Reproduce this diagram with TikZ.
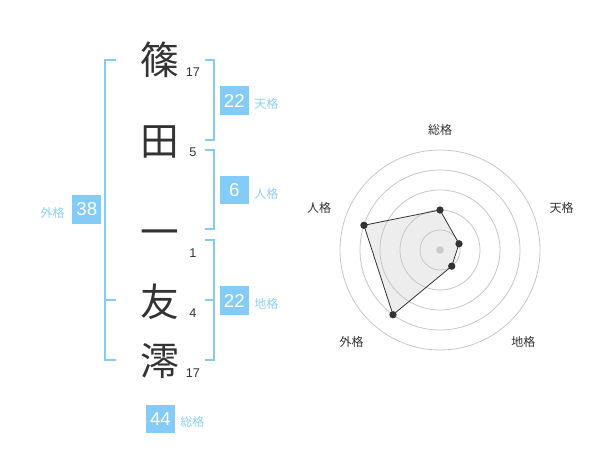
\documentclass[tikz,border=0pt]{standalone}
\usepackage{fontspec}
\usetikzlibrary{calc}
\setmainfont{Liberation Sans}
\newfontfamily\jp{Noto Sans CJK JP}
\definecolor{blu}{HTML}{84CCF8}
\definecolor{blulbl}{HTML}{8ED0F6}
\definecolor{ink}{HTML}{333333}
\tikzset{
  kanji/.style={font=\jp\fontsize{29pt}{29pt}\selectfont, text=ink, inner sep=0pt},
  strk/.style={font=\fontsize{9.5pt}{10pt}\selectfont, text=ink, inner sep=0pt},
  brk/.style={draw=blu, line width=1.5pt},
  numbox/.style={fill=blu, text=white, minimum size=21.5pt, inner sep=0pt, font=\fontsize{14pt}{14pt}\selectfont},
  kaku/.style={font=\jp\fontsize{9pt}{9pt}\selectfont, text=blulbl, inner sep=0pt},
  ring/.style={draw=black!22, line width=0.6pt},
  rlbl/.style={font=\jp\fontsize{9pt}{9pt}\selectfont, text=ink, inner sep=0pt},
  vdot/.style={circle, fill=ink, minimum size=5.5pt, inner sep=0pt}
}
\begin{document}
\begin{tikzpicture}[x=0.75pt,y=-0.75pt]
\useasboundingbox (0,0) rectangle (600,470);
% characters
\node[kanji] (c1) at (160,60) {篠};
\node[kanji] (c2) at (160,141.5) {田};
\node[kanji] (c3) at (160,238) {一};
\node[kanji] (c4) at (160,301.5) {友};
\node[kanji] (c5) at (160,361.5) {澪};
% strokes
\node[strk] (s1) at (193,72.3) {17};
\node[strk] (s2) at (193,152.7) {5};
\node[strk] (s3) at (193,253.3) {1};
\node[strk] (s4) at (193,313.3) {4};
\node[strk] (s5) at (193,373.3) {17};
% brackets
\draw[brk] (116,60) -- (105,60) -- (105,360) -- (116,360);
\draw[brk] (105,300) -- (116,300);
\draw[brk] (205,60) -- (214,60) -- (214,140) -- (205,140);
\draw[brk] (205,150) -- (214,150) -- (214,229.3) -- (205,229.3);
\draw[brk] (205,240) -- (214,240) -- (214,360) -- (205,360);
\draw[brk] (205,300) -- (214,300);
% boxes
\node[numbox] (bt) at (234.3,100.5) {22};
\node[kaku, anchor=west] (lt) at (254,103.5) {天格};
\node[numbox] (bj) at (234.3,190) {6};
\node[kaku, anchor=west] (lj) at (254,193.5) {人格};
\node[numbox] (bc) at (234.3,300.5) {22};
\node[kaku, anchor=west] (lc) at (254,303.5) {地格};
\node[numbox] (bg) at (86.8,209.5) {38};
\node[kaku, anchor=east] (lg) at (65,212.5) {外格};
\node[numbox] (bs) at (160.5,419) {44};
\node[kaku, anchor=west] (ls) at (180,422) {総格};
% radar
\coordinate (o) at (440,250);
\coordinate (p1) at ($(o)+(0,-40)$);
\coordinate (p2) at ($(o)+(19.02,-6.18)$);
\coordinate (p3) at ($(o)+(11.76,16.18)$);
\coordinate (p4) at ($(o)+(-47.02,64.72)$);
\coordinate (p5) at ($(o)+(-76.08,-24.72)$);
\fill[black!7] (p1) -- (p2) -- (p3) -- (p4) -- (p5) -- cycle;
\foreach \r in {20,40,60,80,100} \draw[ring] (o) circle[radius=\r];
\fill[black!20] (o) circle[radius=3.8];
\draw[draw=ink, line width=0.6pt] (p1) -- (p2) -- (p3) -- (p4) -- (p5) -- cycle;
\foreach \i in {1,...,5} \node[vdot] (d\i) at (p\i) {};
\node[rlbl] (r1) at (440,130) {総格};
\node[rlbl] (r2) at (561.7,208) {天格};
\node[rlbl] (r3) at (523.3,341.7) {地格};
\node[rlbl] (r4) at (351.7,341.7) {外格};
\node[rlbl] (r5) at (319,208) {人格};
\end{tikzpicture}
\end{document}
